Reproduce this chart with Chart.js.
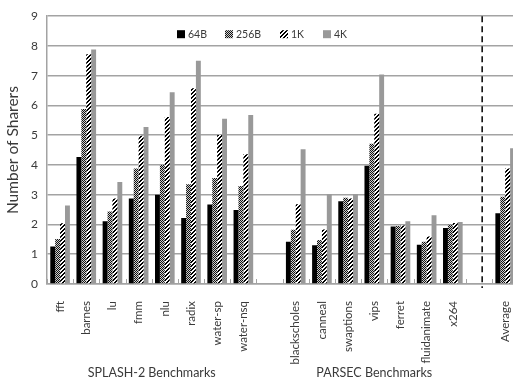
<!DOCTYPE html>
<html>
<head>
<meta charset="utf-8">
<script src="https://cdn.jsdelivr.net/npm/chart.js@4/dist/chart.umd.min.js"></script>
<style>
  html, body { margin: 0; padding: 0; overflow: hidden; background: #fff; }
  #wrap { position: relative; width: 528px; height: 382px; }
</style>
</head>
<body>
<div id="wrap"><canvas id="c"></canvas></div>
<script>
// Benchmarks (empty entries are spacer slots between groups)
const categories = ['fft', 'barnes', 'lu', 'fmm', 'nlu', 'radix', 'water-sp', 'water-nsq', '',
  'blackscholes', 'canneal', 'swaptions', 'vips', 'ferret', 'fluidanimate', 'x264', '', 'Average'];

// Average number of sharers per block granularity
const sharers64B  = [1.26, 4.27, 2.11, 2.87, 3.00, 2.22, 2.67, 2.49, null, 1.42, 1.30, 2.78, 3.97, 1.93, 1.32, 1.88, null, 2.38];
const sharers256B = [1.51, 5.88, 2.44, 3.88, 4.00, 3.35, 3.56, 3.29, null, 1.82, 1.48, 2.90, 4.71, 1.95, 1.42, 1.99, null, 2.93];
const sharers1K   = [2.04, 7.72, 2.87, 4.98, 5.61, 6.58, 5.01, 4.36, null, 2.68, 1.83, 2.87, 5.72, 1.97, 1.60, 2.05, null, 3.88];
const sharers4K   = [2.64, 7.88, 3.43, 5.28, 6.44, 7.50, 5.55, 5.68, null, 4.53, 3.02, 3.02, 7.04, 2.11, 2.31, 2.08, null, 4.56];

const seriesNames = ['64B', '256B', '1K', '4K'];
const yTicks = [0, 1, 2, 3, 4, 5, 6, 7, 8, 9];

// Suite captions under the category labels, with the category index range they span
const groupLabels = ['SPLASH-2 Benchmarks', 'PARSEC Benchmarks'];
const groupStart = [0, 9];
const groupEnd = [7, 15];
// Dashed separator before the Average column (in category units)
const dividerAt = 16.12;

const FONT = 'Lato, "Open Sans", sans-serif';
const TEXT = '#3a3a3a';
const GRID = '#a3a3a3';

function makePattern(size, paint) {
  const c = document.createElement('canvas');
  c.width = c.height = size;
  const g = c.getContext('2d');
  paint(g, size);
  return g.createPattern(c, 'repeat');
}

// fine checkerboard
const checker = makePattern(2, (g) => {
  g.fillStyle = '#cfcfcf'; g.fillRect(0, 0, 2, 2);
  g.fillStyle = '#111'; g.fillRect(0, 0, 1, 1); g.fillRect(1, 1, 1, 1);
});
// wide upward diagonal
const diagonal = makePattern(4, (g) => {
  g.fillStyle = '#fff'; g.fillRect(0, 0, 4, 4);
  g.fillStyle = '#000';
  for (let x = 0; x < 4; x++) for (let y = 0; y < 4; y++) if ((x + y) % 4 < 2) g.fillRect(x, y, 1, 1);
});

const fills = ['#000000', checker, diagonal, '#999999'];
const seriesValues = [sharers64B, sharers256B, sharers1K, sharers4K];

const decorations = {
  id: 'decorations',
  afterDraw(chart) {
    const { ctx, chartArea, scales } = chart;
    const x = scales.x;
    const step = x.getPixelForValue(1) - x.getPixelForValue(0);
    ctx.save();

    // inner tick marks at category boundaries
    ctx.strokeStyle = GRID;
    ctx.lineWidth = 1;
    for (let i = 0; i <= categories.length; i++) {
      const px = Math.round(x.getPixelForValue(0) + (i - 0.5) * step) + 0.5;
      ctx.beginPath();
      ctx.moveTo(px, chartArea.bottom);
      ctx.lineTo(px, chartArea.bottom - 5);
      ctx.stroke();
    }

    // dashed separator
    const dx = x.getPixelForValue(0) + dividerAt * step;
    ctx.strokeStyle = '#000';
    ctx.lineWidth = 1.5;
    ctx.setLineDash([6, 4]);
    ctx.beginPath();
    ctx.moveTo(dx, chartArea.top);
    ctx.lineTo(dx, chartArea.bottom + 4);
    ctx.stroke();
    ctx.setLineDash([]);

    // suite captions
    ctx.fillStyle = TEXT;
    ctx.font = '12.5px ' + FONT;
    ctx.textAlign = 'center';
    ctx.textBaseline = 'middle';
    groupLabels.forEach((lbl, k) => {
      const cx = (x.getPixelForValue(groupStart[k]) + x.getPixelForValue(groupEnd[k])) / 2;
      ctx.fillText(lbl, cx, 373);
    });

    // legend inside the plot
    const legendX = [177, 225, 280, 323];
    ctx.font = '10.5px ' + FONT;
    ctx.textAlign = 'left';
    chart.data.datasets.forEach((ds, i) => {
      const bx = legendX[i];
      ctx.fillStyle = ds.backgroundColor;
      ctx.fillRect(bx, chartArea.top + 14, 8, 8);
      ctx.fillStyle = TEXT;
      ctx.fillText(ds.label, bx + 11, chartArea.top + 18.5);
    });
    ctx.restore();
  }
};

new Chart(document.getElementById('c'), {
  type: 'bar',
  data: {
    labels: categories,
    datasets: seriesNames.map((name, i) => ({
      label: name,
      data: seriesValues[i],
      backgroundColor: fills[i],
      borderWidth: 0,
      categoryPercentage: 0.75,
      barPercentage: 1.0
    }))
  },
  options: {
    responsive: true,
    maintainAspectRatio: false,
    animation: false,
    layout: { padding: { top: 12, right: 0, bottom: 0, left: 0 } },
    plugins: { legend: { display: false }, tooltip: { enabled: false } },
    scales: {
      x: {
        grid: { display: false },
        border: { display: true, color: GRID, width: 1.5 },
        ticks: {
          autoSkip: false, minRotation: 90, maxRotation: 90,
          padding: 9, color: TEXT, font: { family: FONT, size: 11.5 }
        },
        afterFit(scale) { scale.height = 98; }
      },
      y: {
        min: 0, max: 9,
        afterBuildTicks(scale) { scale.ticks = yTicks.map(v => ({ value: v })); },
        grid: { color: GRID, lineWidth: 1.5, drawTicks: false },
        border: { display: true, color: GRID, width: 1.5 },
        ticks: { padding: 9, color: TEXT, font: { family: FONT, size: 12 } },
        title: {
          display: true, text: 'Number of Sharers', color: TEXT,
          font: { family: FONT, size: 15.5 }, padding: { top: 4, bottom: 0 }
        },
        afterFit(scale) { scale.width = 47; }
      }
    }
  },
  plugins: [decorations]
});
</script>
</body>
</html>
